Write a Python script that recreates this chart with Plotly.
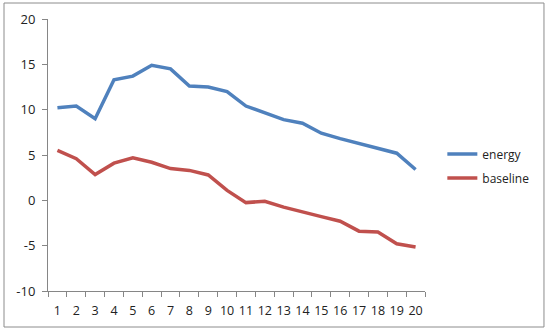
import plotly.graph_objects as go

categories = [str(i) for i in range(1, 21)]
energy = [10.2, 10.4, 9.0, 13.3, 13.7, 14.9, 14.5, 12.6, 12.5, 12.0,
          10.4, 9.6, 8.9, 8.5, 7.4, 6.8, 6.25, 5.7, 5.2, 3.4]
baseline = [5.5, 4.6, 2.85, 4.1, 4.7, 4.2, 3.5, 3.3, 2.8, 1.1,
            -0.25, -0.1, -0.75, -1.3, -1.8, -2.3, -3.4, -3.5, -4.8, -5.15]
y_ticks = [-10, -5, 0, 5, 10, 15, 20]
y_ticklabels = ["-10", "-5", "0", "5", "10", "15", "20"]

fig = go.Figure()
fig.add_trace(go.Scatter(x=categories, y=energy, mode="lines", name="energy",
                         legendgroup="a",
                         line=dict(color="#4F81BD", width=3.5)))
fig.add_trace(go.Scatter(x=categories, y=baseline, mode="lines", name="baseline",
                         legendgroup="b",
                         line=dict(color="#C0504D", width=3.5)))

font = dict(family="Open Sans, Liberation Sans, sans-serif", size=12, color="#222222")

fig.update_layout(
    width=550, height=333,
    margin=dict(l=48, r=125, t=19, b=42, autoexpand=False),
    paper_bgcolor="white", plot_bgcolor="white",
    font=font,
    showlegend=True,
    legend=dict(x=1.046, y=0.46, xanchor="left", yanchor="middle",
                font=dict(size=12, color="#222222"),
                itemwidth=30, tracegroupgap=5, bgcolor="rgba(0,0,0,0)"),
    xaxis=dict(type="category", showgrid=False, showline=True, linecolor="#868686",
               linewidth=1, ticks="outside", tickson="boundaries", ticklen=5,
               tickcolor="#868686", range=[-0.5, 19.5], zeroline=False,
               tickangle=0, automargin=False, ticklabelstandoff=8,
               tickfont=dict(size=12.5, color="#222222")),
    yaxis=dict(range=[-10, 20], tickvals=y_ticks, ticktext=y_ticklabels,
               showgrid=False, showline=True, automargin=False,
               linecolor="#868686", linewidth=1, ticks="outside", ticklen=5,
               tickcolor="#868686", zeroline=False, ticklabelstandoff=4,
               tickfont=dict(size=13, color="#222222")),
    shapes=[dict(type="rect", xref="paper", yref="paper",
                 x0=-0.1167, x1=1.3156, y0=-0.1324, y1=1.0588,
                 line=dict(color="#8C8C8C", width=1), fillcolor="rgba(0,0,0,0)")],
)

fig.write_html("out.html", post_script="document.body.style.margin='0';",
               config={"displayModeBar": False})
